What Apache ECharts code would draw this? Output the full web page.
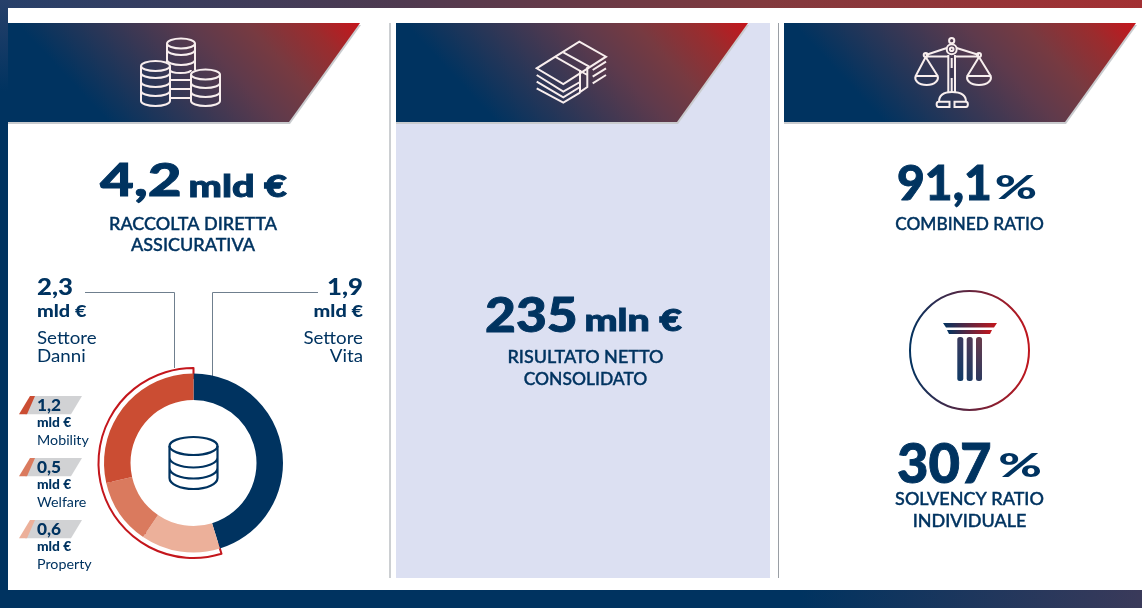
<!DOCTYPE html>
<html><head><meta charset="utf-8">
<style>html,body{margin:0;padding:0;background:#fff}#c{width:1142px;height:608px}</style>
<script src="https://cdn.jsdelivr.net/npm/echarts@6/dist/echarts.min.js"></script>
</head><body><div id="c"></div>
<script>
// ---- data ----
const sectorNames = ['Settore Vita','Property','Welfare','Mobility'];
const sectorValues = [1.9,0.6,0.5,1.2];
const sectorColors = ['#003360','#ecb09a','#da7a5e','#cb4d33'];
const danniTotal = 2.3, vitaTotal = 1.9;
const legendNames = ['Mobility','Welfare','Property'];
const legendValues = ['1,2','0,5','0,6'];

const NAVY='#003360', RED='#c4161c';
const F='Lato, "Open Sans", sans-serif';
const LG=echarts.graphic.LinearGradient;
const grad=()=>new LG(0,0,1,0,[{offset:0,color:NAVY},{offset:1,color:RED}]);
const bannerGrad=()=>new LG(0.156,0.505,0.676,-1.22,[{offset:0,color:'#003360'},{offset:.5,color:'#5e3a4c'},{offset:.67,color:'#773a41'},{offset:.85,color:'#9a2c2e'},{offset:1,color:'#c4161c'}]);

// base = alphabetic baseline; sx = horizontal stretch about the anchor
function txt(x,base,text,size,weight,align,sx,extra){
  const el={type:'text',z:10,style:Object.assign({x,y:base-0.33*size,text,fill:NAVY,font:`${weight} ${size}px ${F}`,align:align||'center',verticalAlign:'middle'},extra||{})};
  if(sx){el.scaleX=sx;el.originX=x;el.originY=base;}
  return el;
}
const heavy={stroke:NAVY,lineWidth:0.4};
const bold={stroke:NAVY,lineWidth:0.9};
const label=(x,b,t,sx)=>txt(x,b,t,18,500,'center',sx,heavy);
function poly(points,style,z){return {type:'polygon',z:z||3,shape:{points},style};}
function banner(x0){
  return [
    poly([[x0,25],[x0+353,25],[x0+282,124],[x0,124]],{fill:'#c9cbce'},2),
    poly([[x0,23],[x0+352,23],[x0+281,122],[x0,122]],{fill:bannerGrad()},3)
  ];
}
let pathId=0;
function pth(d,stroke,lw){
  const name='p'+(pathId++);
  echarts.graphic.registerShape(name,echarts.graphic.extendPath(d,{}));
  return {type:name,z:6,style:{stroke:stroke||'#f8eeee',fill:'none',lineWidth:lw||2}};
}
function ell(cx,cy,rx,ry,stroke,lw){return {type:'ellipse',z:6,shape:{cx,cy,rx,ry},style:{stroke:stroke||'#f8eeee',fill:'none',lineWidth:lw||2}};}
const arc=(l,r,y,ry)=>`M${l} ${y} A${(r-l)/2} ${ry} 0 0 0 ${r} ${y}`;
const coins=[
  ell(181,43.5,14,5),
  pth(`M167 43.5 V62 M195 43.5 V70 ${arc(167,195,50,5)} ${arc(167,195,60,5)} ${arc(170,191,70,3)} M170 80 H191 M170 89 H191 M170 98 H191`),
  ell(155.5,66,14.5,5),
  pth(`M141 66 V101 M170 66 V101 ${arc(141,170,73,5)} ${arc(141,170,82,5)} ${arc(141,170,91,5)} ${arc(141,170,101,5)}`),
  ell(205.5,74.5,14.5,5),
  pth(`M191 74.5 V101 M220 74.5 V101 ${arc(191,220,83,5)} ${arc(191,220,92,5)} ${arc(191,220,101,5)}`)
];
const money=[
  pth('M579.3 41.7 L606 56.7 L563.3 84 L536.7 68.3 Z'),
  pth('M536.7 75 L563.3 91.7 L580 82 M536.7 81.7 L563.3 97.3 L580 87 M536.7 88.3 L563.3 102.7 L580 92.7'),
  pth('M606 61.7 L592.7 70 M606 68.3 L592.7 76.7 M606 75 L592.7 83.3'),
  pth('M555 56.7 L587.3 75 M563.3 52.3 L589.3 66.7 M580 70 V92 L587.3 87 V67')
];
const scaleIcon=[
  ell(951.7,40.7,2.6,2.6),ell(951.7,49.3,5,5),ell(951.7,49.3,1.8,1.8),
  pth('M948.3 55 V93 M955 55 V93 M951.7 58 V68 M951.7 78 V92'),
  pth('M946.8 48 L925.7 55 M956.6 48 L979 55 M925.7 56.5 H948 M955 56.5 H979'),
  ell(925.7,55,2,2),ell(979,55,2,2),
  pth('M925.7 57 L915.7 76 M925.7 57 L937.7 76 M915.7 76 H937.7 C939 80 935 85 926.7 85 C918 85 914 80 915.7 76 Z'),
  pth('M979 57 L967.3 76 M979 57 L990.7 76 M967.3 76 H990.7 C992 80 988 85 979 85 C970 85 966 80 967.3 76 Z'),
  pth('M939 101.7 C939 96 942 92 952 92 C962 92 966 96 966 101.7 M938.5 101.7 H949.5 V107 H938.5 C936 107 936 101.7 938.5 101.7 M954.5 101.7 H966 C968.5 101.7 968.5 107 966 107 H954.5 Z')
];
const db=[
  ell(193.5,446,24,9,NAVY,2.2),
  pth('M169.5 446 V478 C169.5 484 180 489 193.5 489 C207 489 217.5 484 217.5 478 V446 M169.5 457.5 C169.5 463 180 467.5 193.5 467.5 C207 467.5 217.5 463 217.5 457.5 M169.5 468 C169.5 474 180 478.5 193.5 478.5 C207 478.5 217.5 474 217.5 468',NAVY,2.2)
];
const chipY=[396,458,520];
const chipC=[sectorColors[3],sectorColors[2],sectorColors[1]];
const chips=[];
legendNames.forEach((n,i)=>{
  const y=chipY[i];
  chips.push(poly([[34,y],[82,y],[71,y+18.3],[25,y+18.3]],{fill:'#d1d2d4'},3));
  chips.push(poly([[30,y],[35,y],[27,y+18.3],[19,y+18.3]],{fill:chipC[i]},4));
  chips.push(txt(37,y+15.5,legendValues[i],16,900,'left',1.08));
  chips.push(txt(37,y+31.5,'mld €',13,900,'left',1.06));
  chips.push(txt(37,y+49,n,14,400,'left',1.02));
});
const lineS={stroke:'#6f7f8e',lineWidth:1,fill:'none'};
const pillar=(x,c0,c1)=>({type:'rect',z:5,shape:{x,y:337,width:6,height:44,r:2.5},style:{fill:new LG(0,1,0,0,[{offset:0,color:c0},{offset:1,color:c1}])}});

const graphicEls=[
 {type:'rect',z:0,shape:{x:0,y:0,width:1142,height:8},style:{fill:new LG(0,0,1,0,[{offset:0,color:'#27406a'},{offset:.35,color:'#4f3a50'},{offset:.67,color:'#823a3e'},{offset:1,color:'#a33033'}])}},
 {type:'rect',z:0,shape:{x:0,y:0,width:8,height:608},style:{fill:new LG(0,0,0,1,[{offset:0,color:'#27406a'},{offset:.15,color:NAVY},{offset:1,color:NAVY}])}},
 {type:'rect',z:0,shape:{x:0,y:590,width:1142,height:18},style:{fill:new LG(0,0,1,0,[{offset:0,color:NAVY},{offset:.7,color:NAVY},{offset:1,color:'#3a3a5a'}])}},
 {type:'rect',z:0,shape:{x:396,y:23,width:374,height:555},style:{fill:'#dce0f2'}},
 {type:'rect',z:1,shape:{x:389.5,y:23,width:1,height:555},style:{fill:'#9a9fa5'}},
 {type:'rect',z:1,shape:{x:778,y:23,width:1,height:555},style:{fill:'#9a9fa5'}},
 ...banner(8),...banner(396),...banner(784),
 ...coins,...money,...scaleIcon,...db,...chips,
 {type:'polyline',z:2,shape:{points:[[85,292.5],[174.5,292.5],[174.5,368]]},style:lineS},
 {type:'polyline',z:2,shape:{points:[[318,292.5],[212.5,292.5],[212.5,376]]},style:lineS},
 txt(100,196,'4,2',46,900,'left',1.27,bold), txt(287,197,'mld €',30,900,'right',1.32,bold),
 label(193,230,'RACCOLTA DIRETTA'),
 label(193,251.5,'ASSICURATIVA'),
 txt(37,295,String(danniTotal).replace('.',','),23,900,'left',1.12),
 txt(37,317.5,'mld €',17,900,'left',1.17),
 txt(37,344,'Settore',18,400,'left',1.04),
 txt(37,362,'Danni',18,400,'left',1.04),
 txt(363,295,String(vitaTotal).replace('.',','),23,900,'right',1.12),
 txt(363,317.5,'mld €',17,900,'right',1.17),
 txt(363,344,'Settore',18,400,'right',1.04),
 txt(363,362,'Vita',18,400,'right',1.04),
 txt(485,332,'235',48,900,'left',1.11,bold), txt(682,331,'mln €',30,900,'right',1.31,bold),
 label(585.5,363.5,'RISULTATO NETTO'),
 label(585.5,385,'CONSOLIDATO',0.97),
 txt(897,200,'91,1',48,900,'left',null,bold), txt(1037,199,'%',33,900,'right',1.55),
 label(969.5,230,'COMBINED RATIO',0.96),
 {type:'circle',z:5,shape:{cx:969.5,cy:350.5,r:59.5},style:{fill:'none',lineWidth:2,stroke:grad()}},
 poly([[943,323],[997,323],[994,327.5],[946,327.5]],{fill:grad()},5),
 poly([[947,330],[992,330],[990,334],[949,334]],{fill:grad()},5),
 pillar(957.3,'#103a66','#3a3a5e'),pillar(966.7,'#1c3a62','#503a55'),pillar(976,'#2c3a60','#6a3a4a'),
 txt(897,483,'307',56,900,'left',0.97,bold), txt(1042,477,'%',33,900,'right',1.6),
 label(969.5,505,'SOLVENCY RATIO'),
 label(969.5,527,'INDIVIDUALE'),
];

const chart=echarts.init(document.getElementById('c'),null,{renderer:'canvas'});
chart.setOption({
 animation:false,backgroundColor:'#fff',
 graphic:{elements:graphicEls},
 series:[
  {type:'pie',z:3,silent:true,center:[193.5,463],radius:[63,89.5],startAngle:90,clockwise:true,
   label:{show:false},labelLine:{show:false},
   data:sectorNames.map((n,i)=>({name:n,value:sectorValues[i],itemStyle:{color:sectorColors[i]}}))},
  {type:'pie',z:2,silent:true,center:[193.5,463],radius:[85,95],startAngle:90,clockwise:true,
   label:{show:false},labelLine:{show:false},
   data:[{value:vitaTotal,name:'Vita',itemStyle:{color:'rgba(0,0,0,0)',borderWidth:0}},
         {value:danniTotal,name:'Danni',itemStyle:{color:'#fff',borderColor:'#c4161c',borderWidth:2}}]}
 ]
});
</script></body></html>
